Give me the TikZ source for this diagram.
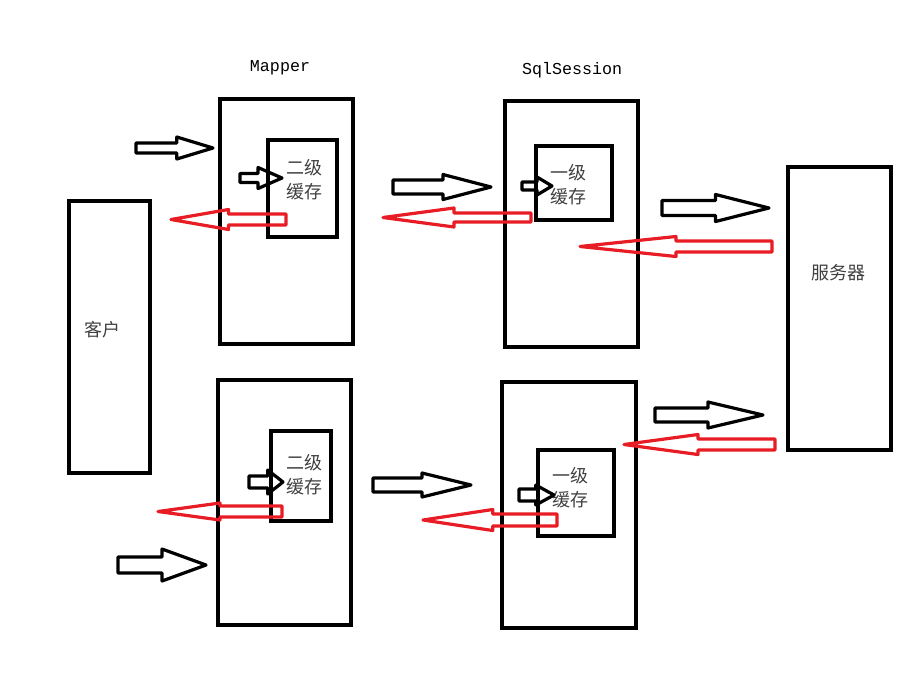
\documentclass[tikz,border=0pt]{standalone}
\usepackage{fontspec}
\newfontfamily\cjk{Noto Sans CJK SC}
\setmonofont{Liberation Mono}
\usepackage{tikz}
\usetikzlibrary{calc}

\definecolor{backred}{RGB}{232,28,36}

% block arrow: style, tail, tip, shaft half, head half, shaft share
\newcommand{\blockarrow}[6]{%
  \draw[#1] let \p1=(#2), \p2=(#3),
    \n1={\x1+#6*(\x2-\x1)}, \n2={#4*0.75pt}, \n3={#5*0.75pt} in
    (\x1,\y1+\n2) -- (\n1,\y1+\n2) -- (\n1,\y1+\n3) -- (\x2,\y2)
    -- (\n1,\y1-\n3) -- (\n1,\y1-\n2) -- (\x1,\y1-\n2) -- cycle;
}

\begin{document}
\begin{tikzpicture}[x=0.75pt,y=-0.75pt]
        \tikzstyle{box}=[draw, line width=3pt, inner sep=0pt]
        \tikzstyle{word}=[inner sep=0pt, align=center, text=black!75, font=\cjk\fontsize{13.5}{18}\selectfont]
        \tikzstyle{title}=[inner sep=0pt, font=\ttfamily\fontsize{12.5}{14}\selectfont]
        \tikzstyle{goarr}=[draw=black, line width=2.4pt, line join=round]
        \tikzstyle{backarr}=[draw=backred, line width=2.4pt, line join=round]

        \useasboundingbox (0,0) rectangle (919,675);

        % boxes
        \node (client) [box, minimum width=60.75pt, minimum height=204pt] at (109.5,337) {};
        \node (mapA)   [box, minimum width=99.75pt, minimum height=183.75pt] at (286.5,221.5) {};
        \node (l2A)    [box, minimum width=51.75pt, minimum height=72.75pt] at (302.5,188.5) {};
        \node (sessA)  [box, minimum width=99.75pt, minimum height=184.5pt] at (571.5,224) {};
        \node (l1A)    [box, minimum width=57pt, minimum height=55.5pt] at (574,183) {};
        \node (server) [box, minimum width=77.25pt, minimum height=212.25pt] at (839.5,308.5) {};
        \node (mapB)   [box, minimum width=99.75pt, minimum height=183.75pt] at (284.5,502.5) {};
        \node (l2B)    [box, minimum width=45pt, minimum height=67.5pt] at (301,476) {};
        \node (sessB)  [box, minimum width=100.5pt, minimum height=184.5pt] at (569,505) {};
        \node (l1B)    [box, minimum width=57pt, minimum height=64.5pt] at (576,493) {};

        % texts
        \node (l2Aname)    [word] at (304,180) {二级\\缓存};
        \node (l1Aname)    [word] at (568,185) {一级\\缓存};
        \node (l2Bname)    [word] at (304,475) {二级\\缓存};
        \node (l1Bname)    [word] at (570,488) {一级\\缓存};
        \node (clientname) [word] at (102,330) {客户};
        \node (servername) [word] at (838,273) {服务器};
        \node (mapname)    [title] at (280,68) {Mapper};
        \node (sessname)   [title] at (572,70) {SqlSession};

        % arrow ends
        \coordinate (g1s) at (136,148);  \coordinate (g1e) at (213,148);
        \coordinate (g2s) at (240,178);  \coordinate (g2e) at (282,178);
        \coordinate (g3s) at (393,187);  \coordinate (g3e) at (491,187);
        \coordinate (g4s) at (522,186);  \coordinate (g4e) at (552,186);
        \coordinate (g5s) at (662,208);  \coordinate (g5e) at (769,208);
        \coordinate (g6s) at (118,565);  \coordinate (g6e) at (206,565);
        \coordinate (g7s) at (249,482);  \coordinate (g7e) at (283,482);
        \coordinate (g8s) at (373,485);  \coordinate (g8e) at (471,485);
        \coordinate (g9s) at (519,495);  \coordinate (g9e) at (554,495);
        \coordinate (g10s) at (655,415); \coordinate (g10e) at (763,415);

        \coordinate (b1s) at (286,219.5); \coordinate (b1e) at (171,219.5);
        \coordinate (b2s) at (531,217.5); \coordinate (b2e) at (383,217.5);
        \coordinate (b3s) at (772,246.5); \coordinate (b3e) at (580,246.5);
        \coordinate (b4s) at (282,511.5); \coordinate (b4e) at (158,511.5);
        \coordinate (b5s) at (557,520);   \coordinate (b5e) at (423,520);
        \coordinate (b6s) at (775,444.5); \coordinate (b6e) at (624,444.5);

        % requests
        \blockarrow{goarr}{g1s}{g1e}{5}{11}{0.53}
        \blockarrow{goarr}{g2s}{g2e}{4.5}{10.5}{0.43}
        \blockarrow{goarr}{g3s}{g3e}{7}{12.5}{0.51}
        \blockarrow{goarr}{g4s}{g4e}{4}{9}{0.5}
        \blockarrow{goarr}{g5s}{g5e}{7.5}{13.5}{0.5}
        \blockarrow{goarr}{g6s}{g6e}{8}{16}{0.5}
        \blockarrow{goarr}{g7s}{g7e}{6}{12}{0.55}
        \blockarrow{goarr}{g8s}{g8e}{7}{12}{0.5}
        \blockarrow{goarr}{g9s}{g9e}{6}{10}{0.48}
        \blockarrow{goarr}{g10s}{g10e}{7}{13}{0.49}

        % answers
        \blockarrow{backarr}{b1s}{b1e}{5.5}{10}{0.5}
        \blockarrow{backarr}{b2s}{b2e}{4.5}{9.5}{0.52}
        \blockarrow{backarr}{b3s}{b3e}{5.5}{10}{0.5}
        \blockarrow{backarr}{b4s}{b4e}{5.5}{8.5}{0.5}
        \blockarrow{backarr}{b5s}{b5e}{6}{10.5}{0.48}
        \blockarrow{backarr}{b6s}{b6e}{5.5}{10}{0.51}

    \end{tikzpicture}
\end{document}
